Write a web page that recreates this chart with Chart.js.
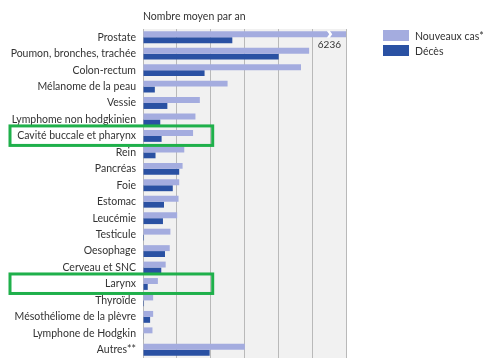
<!DOCTYPE html>
<html lang="fr">
<head>
<meta charset="utf-8">
<script src="https://cdn.jsdelivr.net/npm/chart.js@4"></script>
<style>
  html, body { margin: 0; padding: 0; background: #fff; }
  #wrap { position: relative; width: 485px; height: 358px; }
  #legend { position: absolute; left: 383px; top: 28px; font: 10.5px Lato, sans-serif; color: #333; white-space: nowrap; }
  #legend div { display: flex; align-items: center; height: 15px; }
  #legend span.sw { display: inline-block; width: 26px; height: 11px; margin-right: 6px; }
</style>
</head>
<body>
<div id="wrap">
  <canvas id="chart" width="485" height="358"></canvas>
  <div id="legend"></div>
</div>
<script>
// données (nombre moyen par an)
const categories = [
  "Prostate", "Poumon, bronches, trachée", "Colon-rectum", "Mélanome de la peau",
  "Vessie", "Lymphome non hodgkinien", "Cavité buccale et pharynx", "Rein",
  "Pancréas", "Foie", "Estomac", "Leucémie", "Testicule", "Oesophage",
  "Cerveau et SNC", "Larynx", "Thyroïde", "Mésothéliome de la plèvre",
  "Lymphone de Hodgkin", "Autres**"
];
const nouveauxCas = [6236, 2455, 2335, 1250, 840, 775, 740, 610, 585, 535, 525, 505, 405, 395, 335, 220, 150, 150, 140, 1505];
const deces = [1320, 2005, 910, 175, 360, 255, 275, 185, 535, 440, 310, 295, 15, 325, 270, 70, 15, 105, 10, 985];
const xTicks = [0, 500, 1000, 1500, 2000, 2500, 3000];
const highlighted = ["Cavité buccale et pharynx", "Larynx"];

const seriesNames = ["Nouveaux cas*", "Décès"];
const colLight = "#a4acdf";
const colDark = "#2a51a3";
const fontFam = "Lato, sans-serif";
const fontSize = 10.5;

// légende HTML
document.getElementById("legend").innerHTML = seriesNames
  .map((n, i) => `<div><span class="sw" style="background:${i ? colDark : colLight}"></span>${n}</div>`)
  .join("");

const decorPlugin = {
  id: "decor",
  beforeDraw(chart) {
    const { ctx, chartArea: a } = chart;
    ctx.save();
    ctx.fillStyle = "#f1f1f1";
    ctx.fillRect(a.left, a.top, a.right - a.left, a.bottom - a.top);
    ctx.restore();
  },
  afterDraw(chart) {
    const { ctx, chartArea: a, scales } = chart;
    const xs = scales.x, ys = scales.y;
    ctx.save();
    // titre
    ctx.fillStyle = "#333";
    ctx.font = fontSize + "px " + fontFam;
    ctx.textBaseline = "middle";
    ctx.textAlign = "left";
    ctx.fillText("Nombre moyen par an", a.left, 17);

    // barre tronquée (valeur hors échelle)
    const meta = chart.getDatasetMeta(0);
    nouveauxCas.forEach((v, i) => {
      if (v <= xs.max) return;
      const bar = meta.data[i];
      const top = bar.y - bar.height / 2, bot = bar.y + bar.height / 2;
      const bx = xs.getPixelForValue(xs.max * 0.915);
      ctx.fillStyle = "#fff";
      ctx.beginPath();
      ctx.moveTo(bx - 2, top - 0.5);
      ctx.lineTo(bx + 1, top - 0.5);
      ctx.lineTo(bx + 3.5, bar.y);
      ctx.lineTo(bx + 1, bot + 0.5);
      ctx.lineTo(bx - 2, bot + 0.5);
      ctx.lineTo(bx + 0.5, bar.y);
      ctx.closePath();
      ctx.fill();
      ctx.fillStyle = "#333";
      ctx.font = "10px " + fontFam;
      ctx.textAlign = "right";
      ctx.fillText(String(v), a.right - 5, bot + 8);
    });

    // cadres verts
    ctx.strokeStyle = "#1fb04b";
    ctx.lineWidth = 3;
    highlighted.forEach((name) => {
      const yc = ys.getPixelForValue(categories.indexOf(name));
      const x0 = 10;
      const x1 = xs.getPixelForValue(1030);
      ctx.strokeRect(x0, yc - 10, x1 - x0, 19.5);
    });
    ctx.restore();
  },
};

new Chart(document.getElementById("chart"), {
  type: "bar",
  data: {
    labels: categories,
    datasets: [
      { label: seriesNames[0], data: nouveauxCas, backgroundColor: colLight },
      { label: seriesNames[1], data: deces, backgroundColor: colDark },
    ],
  },
  options: {
    indexAxis: "y",
    responsive: false,
    animation: false,
    categoryPercentage: 0.72,
    barPercentage: 1,
    layout: { padding: { left: 0, top: 29, right: 139, bottom: 0 } },
    plugins: { legend: { display: false }, tooltip: { enabled: false } },
    scales: {
      x: {
        min: 0,
        max: 3000,
        afterBuildTicks: (s) => { s.ticks = xTicks.map((v) => ({ value: v })); },
        ticks: { display: false },
        grid: { color: "#b9b9b9", lineWidth: 1, drawTicks: false },
        border: { display: false },
        afterFit: (s) => { s.height = 0; s.paddingLeft = 0; s.paddingRight = 0; },
      },
      y: {
        grid: { display: false, drawTicks: false },
        border: { display: false },
        ticks: { autoSkip: false, padding: 7, color: "#333", font: { family: fontFam, size: fontSize } },
        afterFit: (s) => { s.width = 143; s.paddingTop = 0; s.paddingBottom = 0; },
      },
    },
  },
  plugins: [decorPlugin],
});
</script>
</body>
</html>
